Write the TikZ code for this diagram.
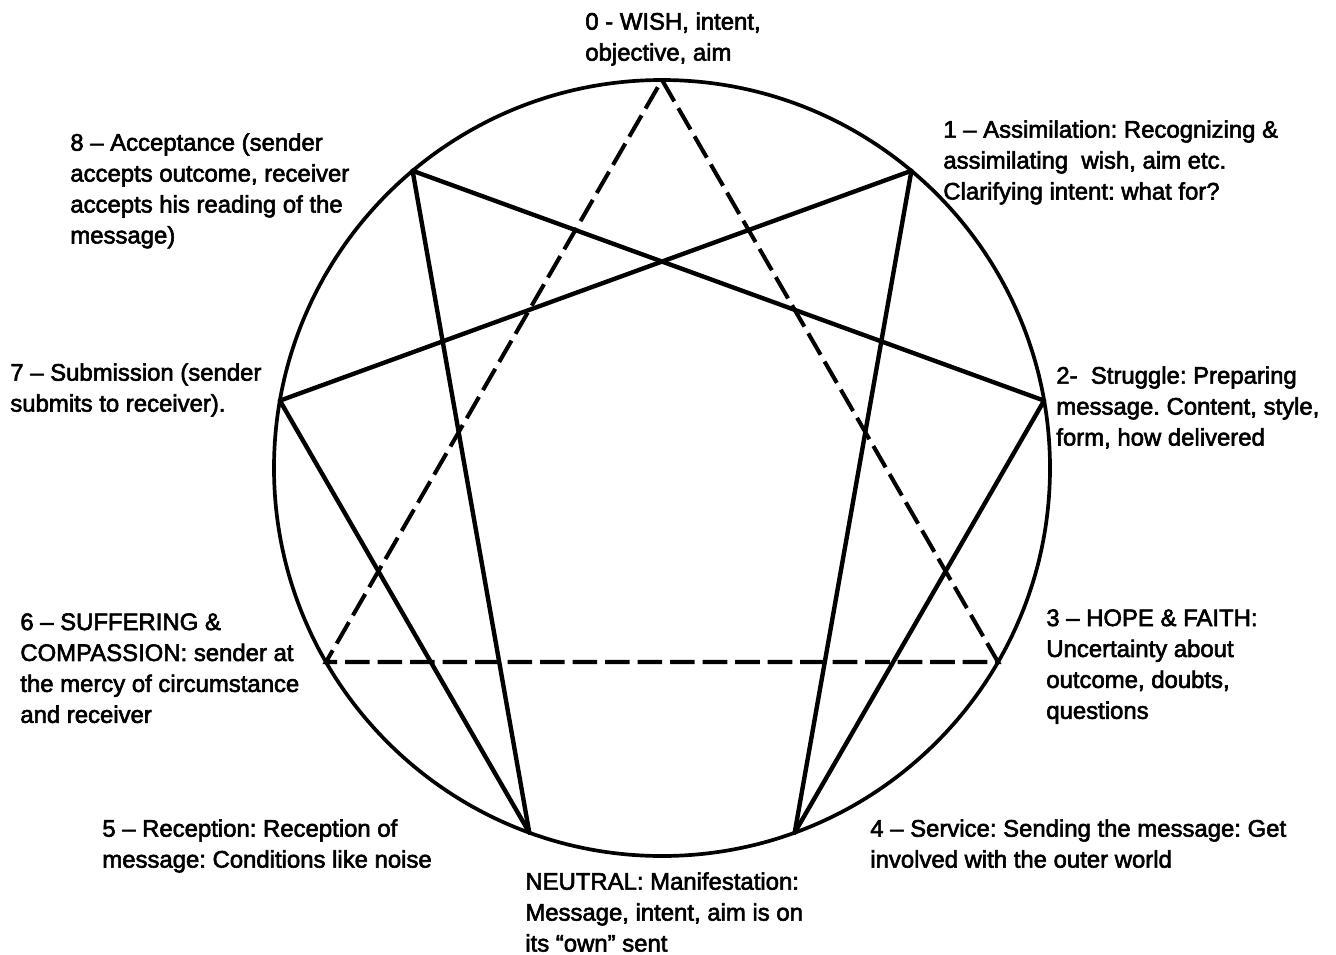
\documentclass[tikz,border=0pt]{standalone}
\usepackage{fontspec}
\setmainfont{Liberation Sans}
\newfontfamily\scanfont[FakeBold=2.5]{Liberation Sans}
\usetikzlibrary{calc}
\frenchspacing
\tikzset{ringline/.style={draw=black,line width=2.1pt},
  starline/.style={draw=black,line width=2.5pt,line join=round,line cap=round},
  triline/.style={draw=black,line width=2.3pt,dash pattern=on 14pt off 4.5pt},
  pointlabel/.style={anchor=north west,align=left,inner sep=0pt,font=\scanfont\fontsize{13.6}{17.6}\selectfont}}

\begin{document}
\begin{tikzpicture}[x=.2mm,y=-.2mm]
\path[use as bounding box] (0,0) rectangle (1336,955);
\coordinate (c) at (662,468);
\draw[ringline] (c) circle[radius=77.6mm];
\foreach \i in {0,...,8} \path (c) ++({40*\i-90}:388) coordinate (p\i);
\foreach \a/\b in {1/4,4/2,2/8,8/5,5/7,7/1} \draw[starline] (p\a)--(p\b);
\draw[triline] (p0)--(p3)--(p6)--cycle;
\node[pointlabel] (l0) at (585,12) {0 - WISH, intent,\\objective, aim};
\node[pointlabel] (l1) at (943,120) {1 – Assimilation: Recognizing \&\\assimilating\ \ wish, aim etc.\\Clarifying intent: what for?};
\node[pointlabel] (l2) at (1056,366) {2-\ \ Struggle: Preparing\\message. Content, style,\\form, how delivered};
\node[pointlabel] (l3) at (1046,609) {3 – HOPE \& FAITH:\\Uncertainty about\\outcome, doubts,\\questions};
\node[pointlabel] (l4) at (870,819) {4 – Service: Sending the message: Get\\involved with the outer world};
\node[pointlabel] (ln) at (525,872) {NEUTRAL: Manifestation:\\Message, intent, aim is on\\its “own” sent};
\node[pointlabel] (l5) at (102,819) {5 – Reception: Reception of\\message: Conditions like noise};
\node[pointlabel] (l6) at (20,613) {6 – SUFFERING \&\\COMPASSION: sender at\\the mercy of circumstance\\and receiver};
\node[pointlabel] (l7) at (10,363) {7 – Submission (sender\\submits to receiver).};
\node[pointlabel] (l8) at (70,133) {8 – Acceptance (sender\\accepts outcome, receiver\\accepts his reading of the\\message)};
\end{tikzpicture}
\end{document}
